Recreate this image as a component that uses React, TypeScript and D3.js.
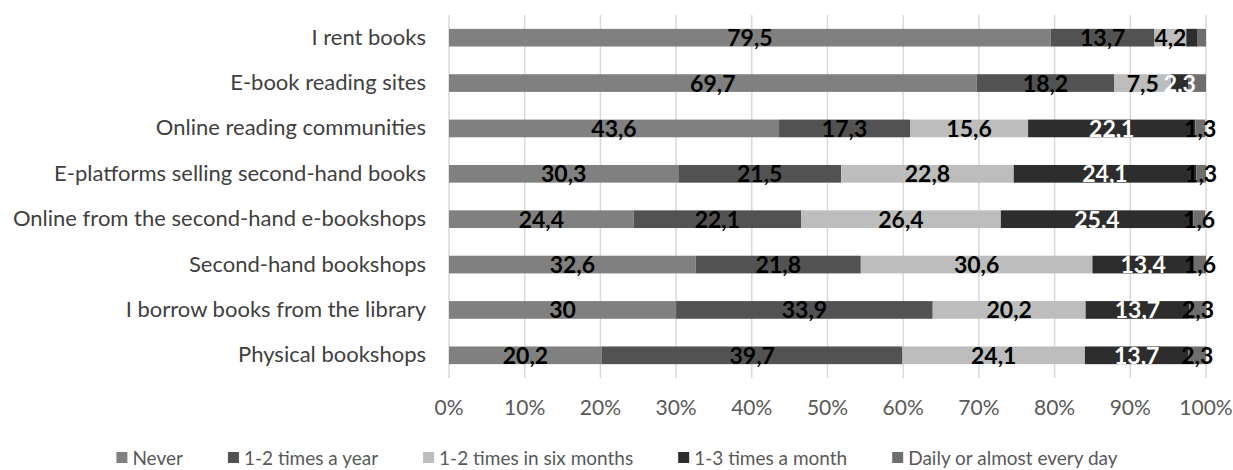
import React, { useEffect, useRef } from "react";
import * as d3 from "d3";

const categories = [
  "I rent books",
  "E-book reading sites",
  "Online reading communities",
  "E-platforms selling second-hand books",
  "Online from the second-hand e-bookshops",
  "Second-hand bookshops",
  "I borrow books from the library",
  "Physical bookshops",
];

const seriesNames = [
  "Never",
  "1-2 times a year",
  "1-2 times in six months",
  "1-3 times a month",
  "Daily or almost every day",
];

const never = [79.5, 69.7, 43.6, 30.3, 24.4, 32.6, 30, 20.2];
const perYear = [13.7, 18.2, 17.3, 21.5, 22.1, 21.8, 33.9, 39.7];
const sixMonths = [4.2, 7.5, 15.6, 22.8, 26.4, 30.6, 20.2, 24.1];
const perMonth = [1.5, 2.3, 22.1, 24.1, 25.4, 13.4, 13.7, 13.7];
const daily = [1.1, 2.3, 1.3, 1.3, 1.6, 1.6, 2.3, 2.3];

// labels not shown in the reference: [row, series]
const hiddenLabels: [number, number][] = [
  [0, 3],
  [0, 4],
  [1, 4],
];

const xTicks = [0, 10, 20, 30, 40, 50, 60, 70, 80, 90, 100];

const colors = ["#808080", "#525252", "#bdbdbd", "#2d2d2d", "#6e6e6e"];
const labelColors = ["#000", "#000", "#000", "#fff", "#000"];

export default function App() {
  const ref = useRef<SVGSVGElement>(null);

  useEffect(() => {
    const svg = d3.select(ref.current);
    svg.selectAll("*").remove();

    const font = "Lato, 'Open Sans', sans-serif";
    const x = d3.scaleLinear().domain([0, 100]).range([449, 1206]);
    const y = d3
      .scaleBand<string>()
      .domain(categories)
      .range([15, 378])
      .paddingInner(0.61)
      .paddingOuter(0.305);

    const series = [never, perYear, sixMonths, perMonth, daily];

    // gridlines
    svg
      .append("g")
      .selectAll("line")
      .data(xTicks)
      .join("line")
      .attr("x1", (d) => x(d))
      .attr("x2", (d) => x(d))
      .attr("y1", 15)
      .attr("y2", 378)
      .attr("stroke", "#d9d9d9")
      .attr("stroke-width", 1.5);

    // tick labels
    svg
      .append("g")
      .selectAll("text")
      .data(xTicks)
      .join("text")
      .attr("x", (d) => x(d))
      .attr("y", 415)
      .attr("text-anchor", "middle")
      .attr("font-family", font)
      .attr("font-size", 21)
      .attr("fill", "#595959")
      .text((d) => d + "%");

    // category labels
    svg
      .append("g")
      .selectAll("text")
      .data(categories)
      .join("text")
      .attr("x", 426)
      .attr("y", (d) => (y(d) as number) + y.bandwidth() / 2 + 7)
      .attr("text-anchor", "end")
      .attr("font-family", font)
      .attr("font-size", 22)
      .attr("fill", "#404040")
      .text((d) => d);

    // stacked bars
    const stackData = categories.map((c, i) => {
      let acc = 0;
      return series.map((s, k) => {
        const start = acc;
        acc += s[i];
        return { row: i, k, start, end: acc, v: s[i], cat: c };
      });
    });
    const flat = stackData.flat();

    svg
      .append("g")
      .selectAll("rect")
      .data(flat)
      .join("rect")
      .attr("x", (d) => x(d.start))
      .attr("width", (d) => Math.max(0, x(d.end) - x(d.start)))
      .attr("y", (d) => y(d.cat) as number)
      .attr("height", y.bandwidth())
      .attr("fill", (d) => colors[d.k]);

    const isHidden = (d: any) =>
      hiddenLabels.some(([r, k]) => r === d.row && k === d.k);

    svg
      .append("g")
      .selectAll("text")
      .data(flat.filter((d) => !isHidden(d)))
      .join("text")
      .attr("x", (d) => x((d.start + d.end) / 2))
      .attr("y", (d) => (y(d.cat) as number) + y.bandwidth() / 2 + 8.5)
      .attr("text-anchor", "middle")
      .attr("font-family", font)
      .attr("font-weight", "bold")
      .attr("font-size", 23)
      .attr("fill", (d) => labelColors[d.k])
      .text((d) => String(d.v).replace(".", ","));

    // legend
    const lg = svg.append("g");
    const sq = 11;
    const gapText = 5;
    const gapItem = 45;
    let cx = 0;
    seriesNames.forEach((name, k) => {
      const g = lg.append("g");
      g.append("rect")
        .attr("x", 0)
        .attr("y", -13)
        .attr("width", sq)
        .attr("height", sq)
        .attr("fill", colors[k]);
      const t = g
        .append("text")
        .attr("x", sq + gapText)
        .attr("y", 0)
        .attr("font-family", font)
        .attr("font-size", 19)
        .attr("fill", "#595959")
        .text(name);
      const w = (t.node() as SVGTextElement).getComputedTextLength();
      g.attr("transform", `translate(${cx},0)`);
      cx += sq + gapText + w + gapItem;
    });
    const total = cx - gapItem;
    lg.attr("transform", `translate(${617 - total / 2},465)`);
  }, []);

  return (
    <svg
      ref={ref}
      width={1233}
      height={470}
      style={{ position: "absolute", left: 0, top: 0, background: "#fff" }}
    />
  );
}
